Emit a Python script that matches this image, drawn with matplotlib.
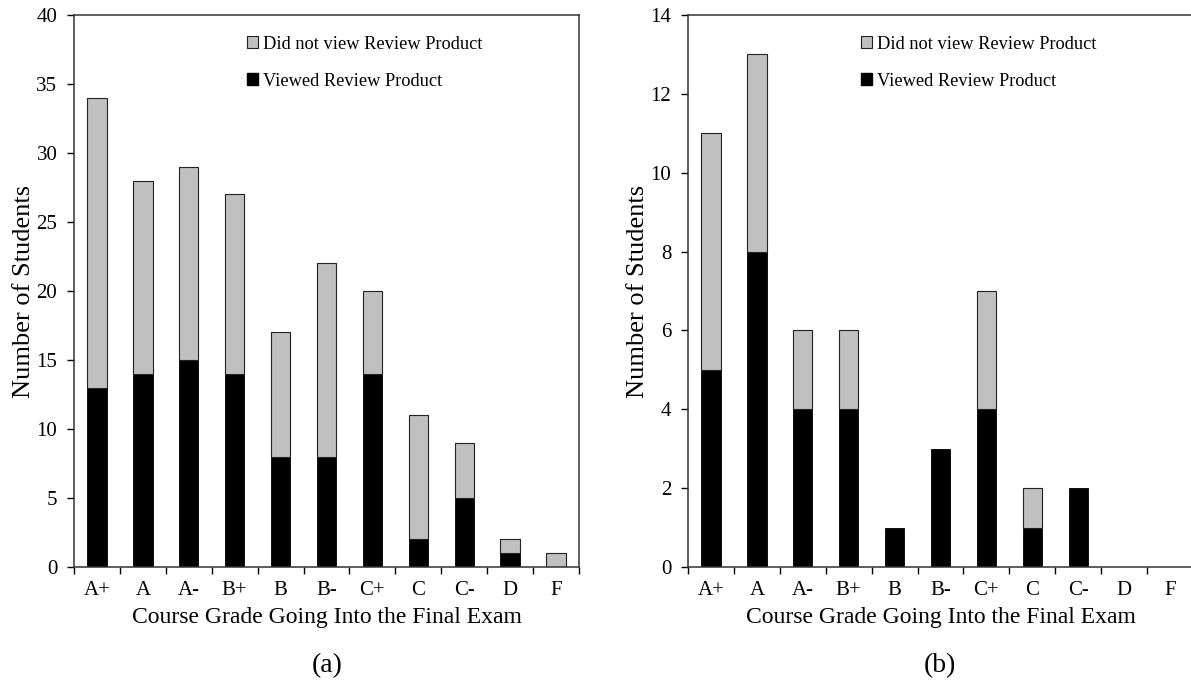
import numpy as np
import matplotlib.pyplot as plt
from matplotlib.patches import Patch

plt.rcParams['font.family'] = ['Liberation Serif', 'DejaVu Serif']

grades = ["A+", "A", "A-", "B+", "B", "B-", "C+", "C", "C-", "D", "F"]

# panel (a)
viewed_a = [13, 14, 15, 14, 8, 8, 14, 2, 5, 1, 0]
not_viewed_a = [21, 14, 14, 13, 9, 14, 6, 9, 4, 1, 1]

# panel (b)
viewed_b = [5, 8, 4, 4, 1, 3, 4, 1, 2, 0, 0]
not_viewed_b = [6, 5, 2, 2, 0, 0, 3, 1, 0, 0, 0]

GRAY = "#c0c0c0"
EDGE = "#222222"


def draw_panel(ax, viewed, not_viewed, ymax, ystep):
    x = np.arange(len(grades))
    viewed = np.array(viewed)
    not_viewed = np.array(not_viewed)
    w = 0.42
    mask = viewed > 0
    ax.bar(x[mask], viewed[mask], width=w, color="black", edgecolor="black", linewidth=0.6)
    mask2 = not_viewed > 0
    ax.bar(x[mask2], not_viewed[mask2], width=w, bottom=viewed[mask2],
           color=GRAY, edgecolor=EDGE, linewidth=0.8)

    ax.set_xlim(-0.5, len(grades) - 0.5)
    ax.set_ylim(0, ymax)
    ax.set_yticks(np.arange(0, ymax + 0.1, ystep))
    ax.set_xticks(x)
    ax.set_xticklabels(grades)
    ax.set_xticks(np.arange(-0.5, len(grades)), minor=True)
    ax.tick_params(axis="x", which="major", length=0, pad=10, labelsize=15)
    ax.tick_params(axis="x", which="minor", length=5, direction="out", width=1)
    ax.tick_params(axis="y", length=5, direction="out", width=1, labelsize=15, pad=7)
    for s in ax.spines.values():
        s.set_linewidth(1.1)
        s.set_color("#333333")

    ax.set_ylabel("Number of Students", fontsize=19, labelpad=1)
    ax.set_xlabel("Course Grade Going Into the Final Exam", fontsize=17, labelpad=5)

    handles = [Patch(facecolor=GRAY, edgecolor=EDGE, linewidth=0.8),
               Patch(facecolor="black", edgecolor="black")]
    ax.legend(handles, ["Did not view Review Product", "Viewed Review Product"],
              loc="upper left", bbox_to_anchor=(0.328, 0.976), frameon=False,
              fontsize=13.2, handlelength=0.6, handleheight=0.6,
              handletextpad=0.3, labelspacing=1.1, borderaxespad=0)


fig = plt.figure(figsize=(11.91, 6.92), dpi=100)
ax1 = fig.add_axes([74 / 1191, 125 / 692, 505 / 1191, 552 / 692])
ax2 = fig.add_axes([688 / 1191, 125 / 692, 505 / 1191, 552 / 692])

draw_panel(ax1, viewed_a, not_viewed_a, 40, 5)
draw_panel(ax2, viewed_b, not_viewed_b, 14, 2)

fig.text(327 / 1191, 1 - 666 / 692, "(a)", ha="center", va="center", fontsize=20)
fig.text(940 / 1191, 1 - 666 / 692, "(b)", ha="center", va="center", fontsize=20)

fig.savefig("out.png", dpi=100)
